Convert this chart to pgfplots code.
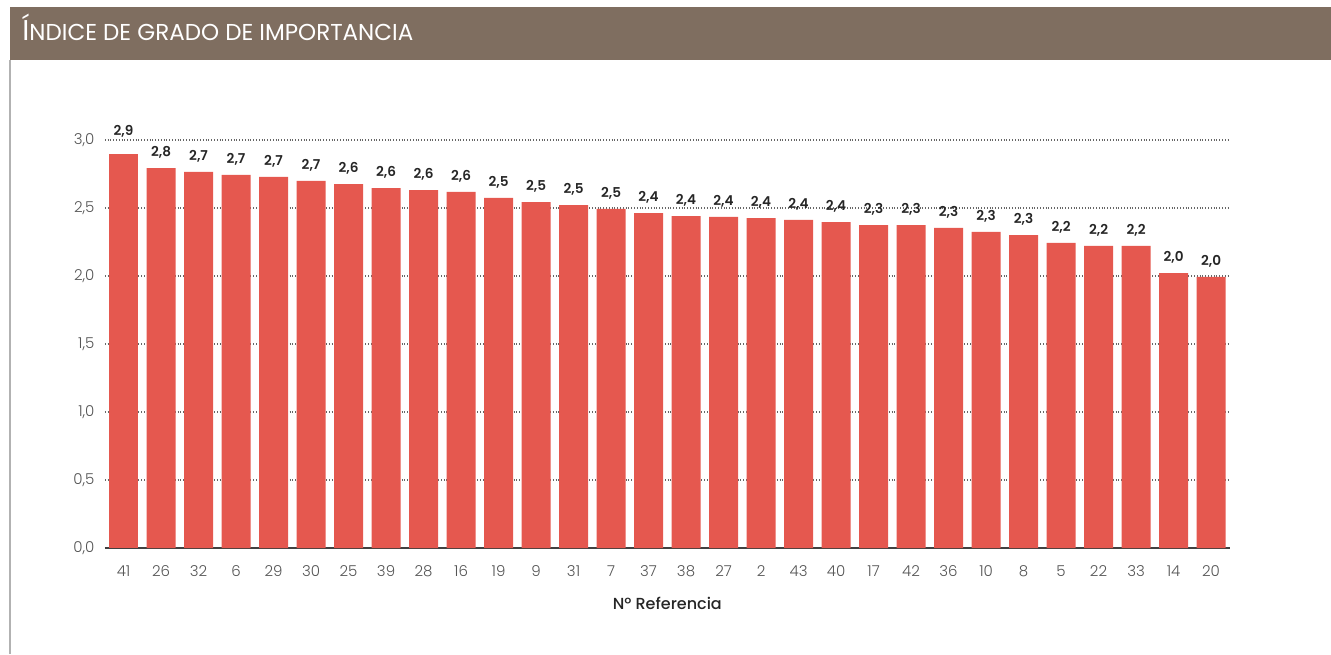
\documentclass[border=0pt]{standalone}
\usepackage{pgfplots}
\pgfplotsset{compat=1.18}
\usepackage{pgfplotstable}
\usepackage{fontspec}
\setmainfont{Poppins}[UprightFont=* Light, BoldFont=* SemiBold]
\newfontfamily\medfont{Poppins}[UprightFont=* Medium]
\newfontfamily\regfont{Poppins}
\definecolor{barred}{HTML}{E5584F}
\definecolor{titlebg}{HTML}{7F6E60}
\definecolor{tickgray}{HTML}{555555}

\pgfplotstableread{
x y lab
0 2.897 2,9
1 2.794 2,8
2 2.765 2,7
3 2.743 2,7
4 2.728 2,7
5 2.699 2,7
6 2.676 2,6
7 2.647 2,6
8 2.632 2,6
9 2.618 2,6
10 2.574 2,5
11 2.544 2,5
12 2.522 2,5
13 2.493 2,5
14 2.463 2,4
15 2.441 2,4
16 2.434 2,4
17 2.426 2,4
18 2.412 2,4
19 2.397 2,4
20 2.375 2,3
21 2.375 2,3
22 2.353 2,3
23 2.324 2,3
24 2.301 2,3
25 2.243 2,2
26 2.221 2,2
27 2.221 2,2
28 2.022 2,0
29 1.993 2,0
}\datatab

\begin{document}
\begin{tikzpicture}
\path[use as bounding box] (0pt,0pt) rectangle (665.5pt,327pt);
\fill[titlebg] (5pt,297pt) rectangle (665.5pt,323.5pt);
\draw[black!30, line width=0.8pt] (5pt,0pt) -- (5pt,297pt);
\node[anchor=base west, text=white, inner sep=0pt] at (11pt,306.5pt)
  {\regfont\fontsize{14.3}{15}\selectfont Í\fontsize{11.5}{12}\selectfont NDICE DE GRADO DE IMPORTANCIA};
\begin{axis}[
    at={(52.4pt,53pt)}, anchor=south west,
    scale only axis, width=562.5pt, height=204pt,
    xmin=-0.5, xmax=29.5, ymin=0, ymax=3,
    axis x line=bottom, axis y line=left,
    x axis line style={-, draw=black!75, line width=0.8pt},
    y axis line style={draw=none},
    tick style={draw=none},
    xtick={0,...,29},
    xticklabels={41,26,32,6,29,30,25,39,28,16,19,9,31,7,37,38,27,2,43,40,17,42,36,10,8,5,22,33,14,20},
    ytick={0,0.5,...,3},
    ymajorgrids, grid style={densely dotted, black!60, line width=0.6pt},
    /pgf/number format/.cd, use comma, fixed, fixed zerofill, precision=1, assume math mode=true,
    /pgfplots/.cd,
    ticklabel style={font=\fontsize{7.5}{9}\selectfont, text=tickgray},
    xticklabel style={yshift=-3pt},
    yticklabel style={xshift=0.5pt},
    xlabel={Nº Referencia},
    xlabel style={at={(axis description cs:0.5,0)}, anchor=center, yshift=-27.5pt,
      font=\medfont\fontsize{8}{9}\selectfont, text=black!85},
    nodes near coords,
    point meta=explicit symbolic,
    nodes near coords style={font=\bfseries\fontsize{6.8}{7}\selectfont, text=black!85, anchor=south, yshift=1.5pt},
]
% first bar: its label sits on the 3,0 grid line
\addplot[ybar, bar width=14.5pt, fill=barred, draw=none, restrict x to domain=0:0,
  nodes near coords style={yshift=3.3pt}] table[x=x, y=y, meta=lab] {\datatab};
\addplot[ybar, bar width=14.5pt, fill=barred, draw=none, restrict x to domain=1:29]
  table[x=x, y=y, meta=lab] {\datatab};
\end{axis}
\end{tikzpicture}
\end{document}
